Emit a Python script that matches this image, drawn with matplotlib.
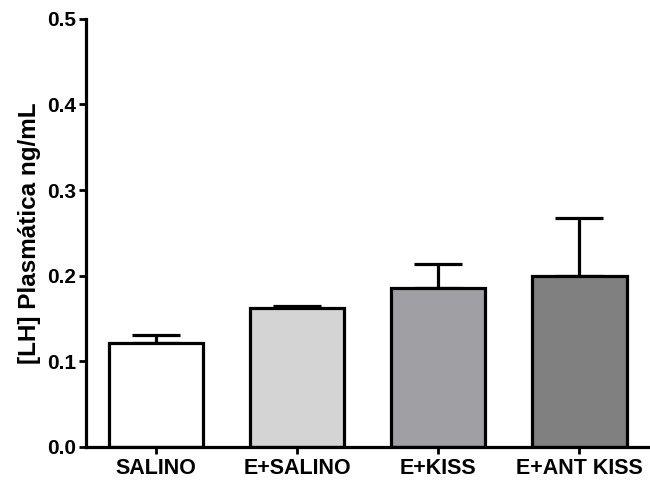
import matplotlib
matplotlib.use("Agg")
import matplotlib.pyplot as plt
import numpy as np

# grupos e valores medios de LH com erro padrao (apenas a barra superior)
grupos = ["SALINO", "E+SALINO", "E+KISS", "E+ANT KISS"]
medias = [0.121, 0.162, 0.185, 0.199]
erros = [0.010, 0.003, 0.029, 0.068]
cores = ["#ffffff", "#d4d4d4", "#a0a0a4", "#808080"]

plt.rcParams["font.family"] = ["Liberation Sans", "DejaVu Sans"]
plt.rcParams["font.weight"] = "bold"

fig = plt.figure(figsize=(6.5, 4.82), dpi=100)
ax = fig.add_axes([0.132, 0.073, 0.868, 0.888])

x = np.arange(len(grupos))
ax.bar(x, medias, width=0.667, color=cores, edgecolor="black", linewidth=2.3, zorder=2)
ax.errorbar(x, medias, yerr=[np.zeros(len(erros)), erros], fmt="none",
            ecolor="black", elinewidth=2.3, capsize=17, capthick=2.3, zorder=1)

ax.set_xlim(-0.5, 3.5)
ax.set_ylim(0, 0.5)
ax.set_yticks([0.0, 0.1, 0.2, 0.3, 0.4, 0.5])
ax.set_yticklabels(["0.0", "0.1", "0.2", "0.3", "0.4", "0.5"])
ax.set_xticks(x)
ax.set_xticklabels(grupos)

for s in ["top", "right"]:
    ax.spines[s].set_visible(False)
for s in ["left", "bottom"]:
    ax.spines[s].set_linewidth(2.3)

ax.tick_params(axis="y", direction="out", length=5, width=2, labelsize=15, pad=2)
ax.tick_params(axis="x", direction="out", length=5, width=2, labelsize=15.5, pad=3)
ax.set_ylabel("[LH] Plasmática ng/mL", fontsize=17.5, fontweight="bold", labelpad=4)

fig.savefig("out.png", dpi=100)
